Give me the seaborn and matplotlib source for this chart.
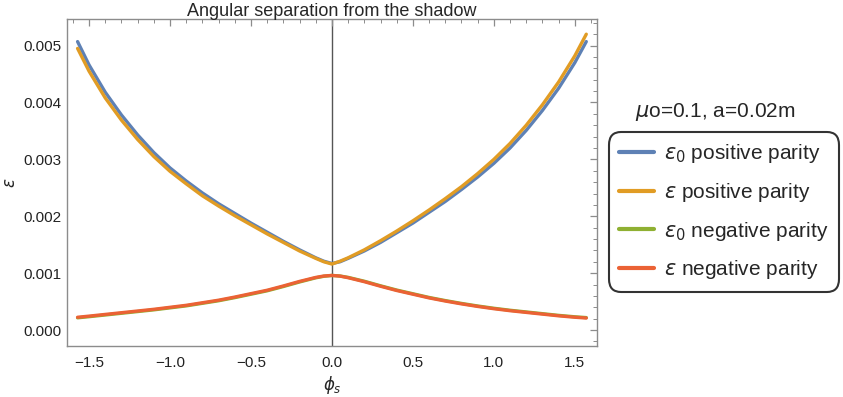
import numpy as np
import pandas as pd
import matplotlib
matplotlib.use('Agg')
from matplotlib import pyplot as plt
from matplotlib.ticker import MultipleLocator
import seaborn as sns

# phi_s sample points
phi = [-1.5708, -1.5, -1.4, -1.3, -1.2, -1.1, -1.0, -0.9, -0.8, -0.7, -0.6, -0.5,
       -0.4, -0.3, -0.2, -0.1, -0.05, 0.0, 0.05, 0.1, 0.2, 0.3, 0.4, 0.5, 0.6, 0.7,
       0.8, 0.9, 1.0, 1.1, 1.2, 1.3, 1.4, 1.5, 1.5708]

eps0_pos = [0.00507, 0.00466, 0.00418, 0.00378, 0.00343, 0.00312, 0.00285, 0.00262,
            0.00241, 0.00222, 0.00205, 0.00188, 0.00172, 0.00156, 0.00141, 0.00127,
            0.00121, 0.00117, 0.00120, 0.00126, 0.00139, 0.00154, 0.00171, 0.00188,
            0.00207, 0.00226, 0.00247, 0.00269, 0.00293, 0.00320, 0.00351, 0.00386,
            0.00425, 0.00470, 0.00507]
eps_pos = [0.00495, 0.00455, 0.00408, 0.00369, 0.00335, 0.00305, 0.00279, 0.00257,
           0.00236, 0.00218, 0.00201, 0.00185, 0.00169, 0.00154, 0.00139, 0.00126,
           0.00120, 0.00116, 0.00121, 0.00127, 0.00141, 0.00157, 0.00174, 0.00192,
           0.00211, 0.00231, 0.00252, 0.00275, 0.00300, 0.00328, 0.00360, 0.00396,
           0.00436, 0.00482, 0.00520]
eps0_neg = [0.000215, 0.000235, 0.000265, 0.000295, 0.000325, 0.000355, 0.000390,
            0.000425, 0.000470, 0.000515, 0.000570, 0.000630, 0.000690, 0.000765,
            0.000845, 0.000918, 0.000945, 0.000960, 0.000950, 0.000926, 0.000858,
            0.000778, 0.000703, 0.000638, 0.000573, 0.000518, 0.000468, 0.000423,
            0.000383, 0.000348, 0.000318, 0.000288, 0.000258, 0.000233, 0.000219]
eps_neg = [0.000225, 0.000245, 0.000275, 0.000305, 0.000335, 0.000365, 0.000400,
           0.000435, 0.000480, 0.000525, 0.000580, 0.000640, 0.000700, 0.000775,
           0.000855, 0.000925, 0.000950, 0.000960, 0.000948, 0.000920, 0.000850,
           0.000770, 0.000695, 0.000630, 0.000565, 0.000510, 0.000460, 0.000415,
           0.000375, 0.000340, 0.000310, 0.000280, 0.000250, 0.000225, 0.000211]

labels = [r'$\epsilon_0$ positive parity', r'$\epsilon$ positive parity',
          r'$\epsilon_0$ negative parity', r'$\epsilon$ negative parity']
colors = ['#5E81B5', '#E19C24', '#8FB032', '#EB6235']

df = pd.concat([pd.DataFrame({'phi': phi, 'eps': v, 'curve': lab})
                for v, lab in zip([eps0_pos, eps_pos, eps0_neg, eps_neg], labels)])

sns.set_style('white')
plt.rcParams['font.family'] = ['Liberation Sans', 'DejaVu Sans']
plt.rcParams['mathtext.fontset'] = 'dejavusans'

fig = plt.figure(figsize=(8.43, 3.97), dpi=100)
ax = fig.add_axes([0.0795, 0.1285, 0.6285, 0.8235])

sns.lineplot(data=df, x='phi', y='eps', hue='curve', palette=colors,
             linewidth=2.4, ax=ax, sort=False)

ax.axvline(0, color='#555555', linewidth=1.0, zorder=0)

ax.set_xlim(-1.636, 1.636)
ax.set_ylim(-0.00028, 0.005466)
ax.xaxis.set_major_locator(MultipleLocator(0.5))
ax.xaxis.set_minor_locator(MultipleLocator(0.1))
ax.yaxis.set_major_locator(MultipleLocator(0.001))
ax.yaxis.set_minor_locator(MultipleLocator(0.0002))
ax.xaxis.set_major_formatter(lambda v, p: f'{v:.1f}'.replace('-', '\u2212'))
ax.yaxis.set_major_formatter(lambda v, p: f'{v:.3f}')

frame_c = '#8c8c8c'
for s in ax.spines.values():
    s.set_color(frame_c)
    s.set_linewidth(1.0)
ax.tick_params(which='both', direction='in', top=True, right=True,
               color=frame_c, labelsize=11, labelcolor='#222222')
ax.tick_params(which='major', length=5, width=0.9)
ax.tick_params(which='minor', length=3, width=0.7)
ax.tick_params(axis='x', pad=7)
ax.tick_params(axis='y', pad=4)

ax.set_xlabel(r'$\phi_s$', fontsize=12, labelpad=3)
ax.set_ylabel(r'$\epsilon$', fontsize=12, labelpad=4)
ax.set_title('Angular separation from the shadow', fontsize=13, pad=2)

handles, labs = ax.get_legend_handles_labels()
for h in handles:
    h.set_linewidth(3)
leg = ax.legend(handles, labs, loc='upper left', bbox_to_anchor=(0.7224, 0.6675),
                bbox_transform=fig.transFigure, borderaxespad=0,
                prop={'size': 15}, frameon=True,
                fancybox=True, handlelength=1.65, handletextpad=0.5,
                labelspacing=0.75, borderpad=0.5, title=None)
leg.get_frame().set_edgecolor('black')
leg.get_frame().set_linewidth(1.5)
leg.get_frame().set_boxstyle('round,pad=0.0,rounding_size=0.6')

fig.text(0.848, 0.718, r'$\mu$o=0.1, a=0.02m', fontsize=15, ha='center', va='center')

plt.savefig('out.png', dpi=100)
